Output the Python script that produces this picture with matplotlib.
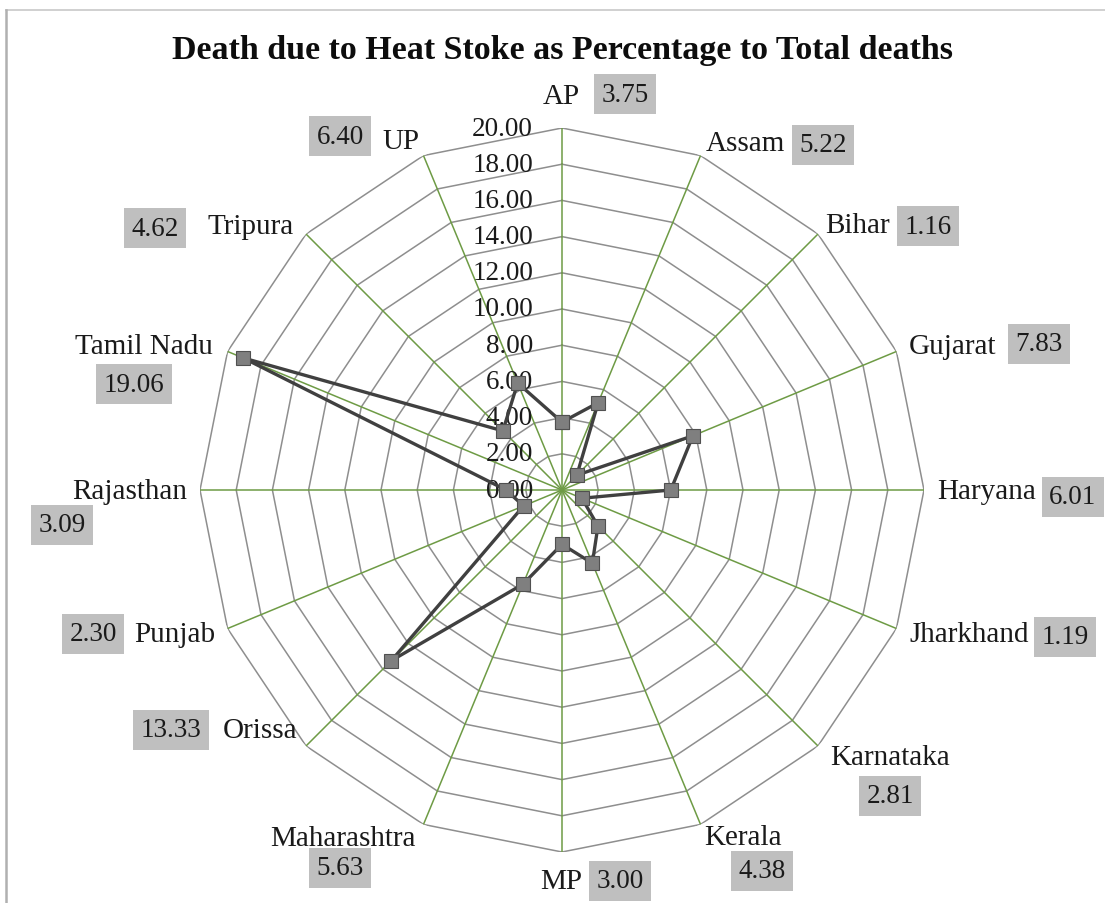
import numpy as np
import matplotlib.pyplot as plt
from matplotlib.lines import Line2D

# data
states = ['AP', 'Assam', 'Bihar', 'Gujarat', 'Haryana', 'Jharkhand', 'Karnataka',
          'Kerala', 'MP', 'Maharashtra', 'Orissa', 'Punjab', 'Rajasthan',
          'Tamil Nadu', 'Tripura', 'UP']
pct = [3.75, 5.22, 1.16, 7.83, 6.01, 1.19, 2.81, 4.38, 3.00, 5.63, 13.33,
       2.30, 3.09, 19.06, 4.62, 6.40]
r_ticks = [0, 2, 4, 6, 8, 10, 12, 14, 16, 18, 20]

# label layout: (name x, name y, box x, box y) in pixels from top-left
label_pos = {
    'AP': (561, 97, 625, 95),
    'Assam': (745, 144, 823, 146),
    'Bihar': (858, 226, 928, 227),
    'Gujarat': (952, 347, 1039, 345),
    'Haryana': (987, 492, 1073, 498),
    'Jharkhand': (969, 635, 1065, 638),
    'Karnataka': (890, 758, 890, 797),
    'Kerala': (743, 838, 762, 872),
    'MP': (561, 882, 620, 882),
    'Maharashtra': (343, 839, 340, 869),
    'Orissa': (260, 731, 171, 731),
    'Punjab': (175, 635, 93, 635),
    'Rajasthan': (130, 492, 62, 526),
    'Tamil Nadu': (144, 347, 134, 385),
    'Tripura': (251, 227, 155, 229),
    'UP': (401, 142, 340, 137),
}

W, H = 1105, 904
plt.rcParams['font.family'] = ['Liberation Serif', 'DejaVu Serif']
fig = plt.figure(figsize=(W / 100, H / 100), dpi=100)

cx, cy, R = 562, 491, 362
ax = fig.add_axes([(cx - R) / W, 1 - (cy + R) / H, 2 * R / W, 2 * R / H], projection='polar')
ax.set_theta_zero_location('N')
ax.set_theta_direction(-1)
ax.set_ylim(0, 20)
ax.grid(False)
ax.set_xticks([])
ax.set_yticks([])
ax.spines['polar'].set_visible(False)
ax.patch.set_alpha(0)

n = len(states)
angles = np.arange(n) * 2 * np.pi / n
closed = np.append(angles, angles[0])

# polygon rings and spokes
for r in r_ticks[1:]:
    ax.plot(closed, [r] * (n + 1), color='#8E8E8E', lw=1.1, zorder=1)
for a in angles:
    ax.plot([a, a], [0, 20], color='#6E9B45', lw=1.1, zorder=1)

# radial tick labels
for r in r_ticks:
    ax.annotate(f'{r:.2f}', xy=(0, r), xytext=(-29, 0), textcoords='offset pixels',
                ha='right', va='center', fontsize=19.5, color='#1a1a1a',
                zorder=2, annotation_clip=False)

# series
vals = pct + pct[:1]
ax.plot(closed, vals, color='#404040', lw=2.4, marker='s', markersize=9.5,
        markerfacecolor='#7F7F7F', markeredgecolor='#505050', markeredgewidth=0.8,
        zorder=3, clip_on=False)

# category labels with value boxes
for s, v in zip(states, pct):
    nx, ny, bx, by = label_pos[s]
    fig.text(nx / W, 1 - ny / H, s, ha='center', va='center', fontsize=21, color='#1a1a1a')
    fig.text(bx / W, 1 - by / H, f'{v:.2f}', ha='center', va='center', fontsize=19.5,
             color='#1a1a1a',
             bbox=dict(boxstyle='square,pad=0.27', facecolor='#BFBFBF', edgecolor='none'))

fig.text(cx / W, 1 - 51 / H, 'Death due to Heat Stoke as Percentage to Total deaths',
         ha='center', va='center', fontsize=24.5, fontweight='bold', color='#0d0d0d')

# chart border (cropped)
fig.add_artist(Line2D([6 / W, 1], [1 - 11 / H] * 2, color='#C8C8C8', lw=1.2))
fig.add_artist(Line2D([6 / W] * 2, [0, 1 - 11 / H], color='#B0B0B0', lw=1.8))

fig.savefig('out.png', dpi=100)
